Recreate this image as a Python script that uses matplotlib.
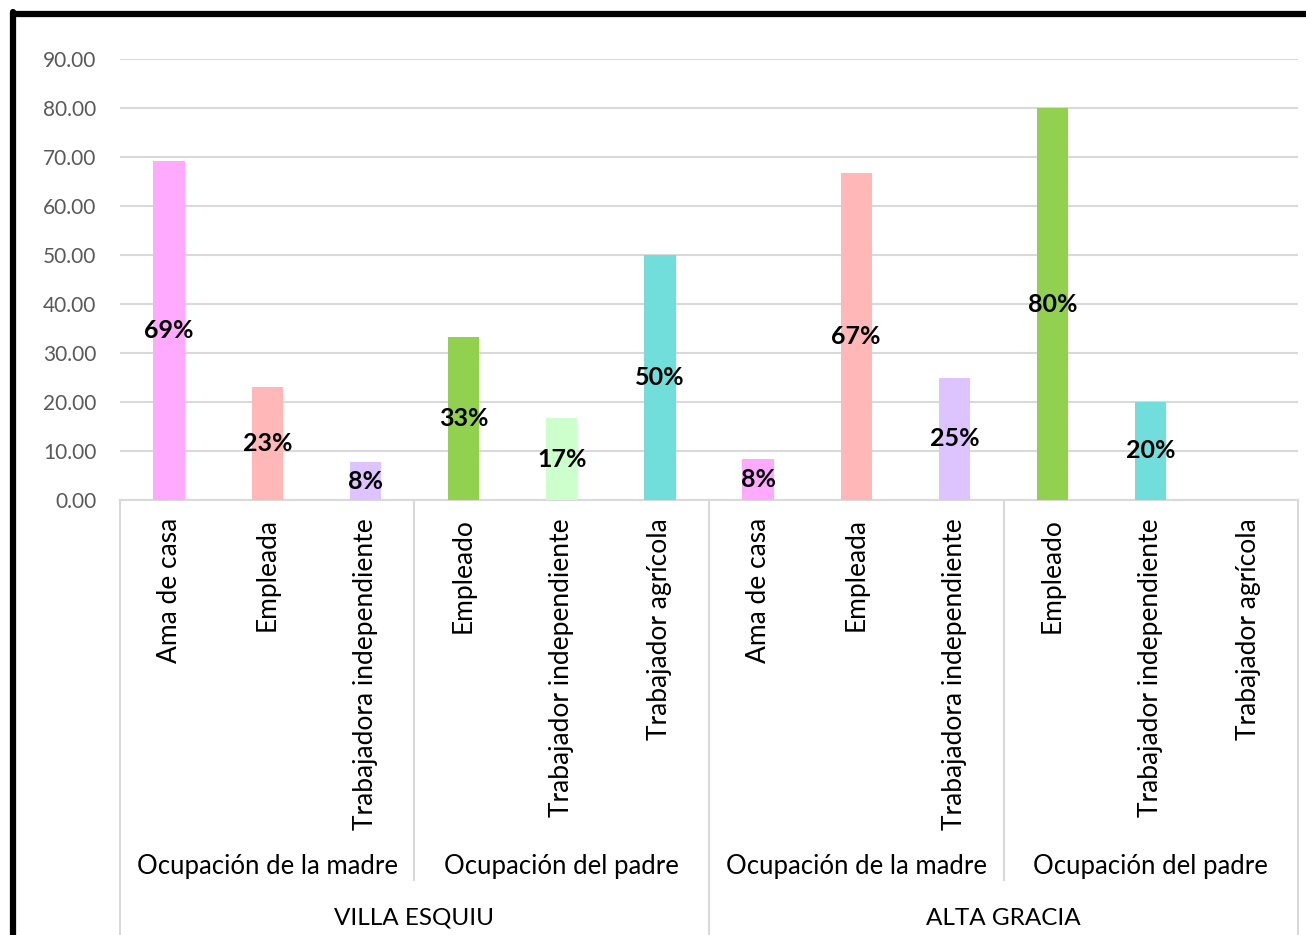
import matplotlib
matplotlib.use("Agg")
import matplotlib.pyplot as plt
from matplotlib.lines import Line2D
import matplotlib.transforms as mtransforms

plt.rcParams['font.family'] = ['Lato', 'DejaVu Sans']

# Occupation shares (%) per town and parent
occupations = ["Ama de casa", "Empleada", "Trabajadora independiente",
               "Empleado", "Trabajador independiente", "Trabajador agrícola",
               "Ama de casa", "Empleada", "Trabajadora independiente",
               "Empleado", "Trabajador independiente", "Trabajador agrícola"]
values = [69.23, 23.08, 7.69,
          33.33, 16.67, 50.00,
          8.33, 66.67, 25.00,
          80.00, 20.00, 0.00]
groups = ["Ocupación de la madre", "Ocupación del padre",
          "Ocupación de la madre", "Ocupación del padre"]
towns = ["VILLA ESQUIU", "ALTA GRACIA"]
y_ticks = [0, 10, 20, 30, 40, 50, 60, 70, 80, 90]

bar_colors = ["#FFA9FF", "#FFB7B7", "#DDC3FF", "#92D050", "#CCFFCC", "#72DEDB",
              "#FFA9FF", "#FFB7B7", "#DDC3FF", "#92D050", "#72DEDB", "#72DEDB"]

W, H = 1306, 935
fig = plt.figure(figsize=(W / 100, H / 100), dpi=100)
ax = fig.add_axes([120 / W, (H - 500) / H, (1298 - 120) / W, 441 / H])

x = list(range(len(values)))
bars = ax.bar(x, values, width=0.32, color=bar_colors, zorder=3)

for xi, v in zip(x, values):
    if v <= 0:
        continue
    ax.text(xi, v / 2, f"{v:.0f}%", ha="center", va="center",
            fontsize=18, fontweight="bold", color="black", zorder=4)

ax.set_xlim(-0.5, len(values) - 0.5)
ax.set_ylim(0, 90)
ax.set_yticks(y_ticks)
ax.set_yticklabels([f"{t:.2f}" for t in y_ticks], fontsize=15, color="#595959")
ax.tick_params(axis="y", length=0, pad=17)
ax.set_xticks([])
ax.grid(axis="y", color="#D9D9D9", linewidth=1.5, zorder=0)
for s in ["top", "right", "left"]:
    ax.spines[s].set_visible(False)
ax.spines["bottom"].set_color("#D9D9D9")
ax.spines["bottom"].set_linewidth(1.5)

# Multi-level category axis
trans = mtransforms.blended_transform_factory(ax.transData, ax.transAxes)
px = 1 / 441  # one pixel in axes units (vertical)

for xi, name in zip(x, occupations):
    ax.text(xi, -18 * px, name, rotation=90, ha="center", va="top",
            fontsize=19, color="black", transform=trans)

for gi, g in enumerate(groups):
    ax.text(gi * 3 + 1, -(866 - 500) * px, g, ha="center", va="center",
            fontsize=18.5, color="black", transform=trans)

for ti, t in enumerate(towns):
    ax.text(ti * 6 + 2.5, -(918 - 500) * px, t, ha="center", va="center",
            fontsize=17.5, color="black", transform=trans)

for xb in [-0.5, 5.5, 11.5]:
    ax.add_line(Line2D([xb, xb], [0, -(H - 500) * px], transform=trans,
                       color="#D9D9D9", linewidth=1.5, clip_on=False))
for xb in [2.5, 8.5]:
    ax.add_line(Line2D([xb, xb], [0, -(880 - 500) * px], transform=trans,
                       color="#D9D9D9", linewidth=1.5, clip_on=False))

# Black frame around the chart area
fig.add_artist(Line2D([13 / W, 13 / W], [(H - 12) / H, 0], transform=fig.transFigure,
                      color="black", linewidth=4.5, solid_capstyle="round"))
fig.add_artist(Line2D([13 / W, 1.0], [(H - 14) / H, (H - 14) / H], transform=fig.transFigure,
                      color="black", linewidth=4.5, solid_capstyle="round"))

fig.savefig("out.png", dpi=100, facecolor="white")
